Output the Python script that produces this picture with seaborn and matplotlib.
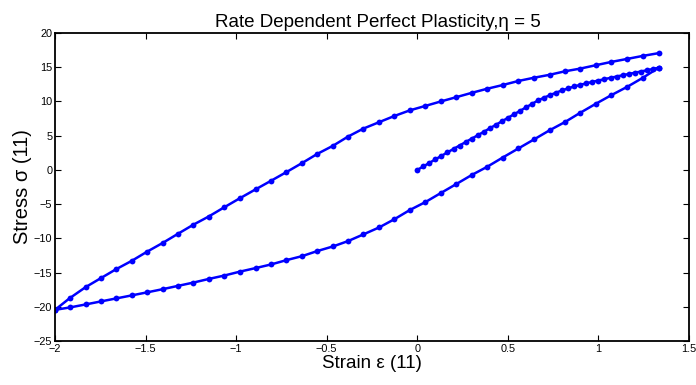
import numpy as np
import pandas as pd
import matplotlib
matplotlib.use("Agg")
import matplotlib.pyplot as plt
import seaborn as sns

# --- data ---
# initial loading 0 -> 1.333
load_strain = [0.0, 0.0333, 0.0667, 0.1, 0.1333, 0.1667, 0.2, 0.2333, 0.2667, 0.3,
               0.3333, 0.3667, 0.4, 0.4333, 0.4667, 0.5, 0.5333, 0.5667, 0.6, 0.6333,
               0.6667, 0.7, 0.7333, 0.7667, 0.8, 0.8333, 0.8667, 0.9, 0.9333, 0.9667,
               1.0, 1.0333, 1.0667, 1.1, 1.1333, 1.1667, 1.2, 1.2333, 1.2667, 1.3, 1.3333]
load_stress = [0.0, 0.5, 1.02, 1.54, 2.05, 2.56, 3.06, 3.56, 4.06, 4.56,
               5.05, 5.56, 6.07, 6.58, 7.09, 7.6, 8.11, 8.62, 9.13, 9.64,
               10.15, 10.55, 10.93, 11.29, 11.62, 11.92, 12.19, 12.43, 12.65, 12.86,
               13.06, 13.26, 13.45, 13.64, 13.83, 14.01, 14.19, 14.37, 14.55, 14.74, 14.94]

# unloading 1.333 -> -2 (lower branch)
unload_strain = [1.333, 1.246, 1.160, 1.072, 0.985, 0.898, 0.816, 0.730, 0.645, 0.558,
                 0.472, 0.385, 0.301, 0.216, 0.130, 0.045, -0.041, -0.126, -0.210, -0.298,
                 -0.382, -0.465, -0.551, -0.636, -0.723, -0.808, -0.893, -0.980, -1.066, -1.152,
                 -1.237, -1.322, -1.406, -1.493, -1.577, -1.662, -1.747, -1.831, -1.918, -2.0]
unload_stress = [14.94, 13.47, 12.15, 10.93, 9.65, 8.32, 7.0, 5.78, 4.46, 3.13,
                 1.81, 0.44, -0.74, -2.06, -3.38, -4.7, -5.86, -7.2, -8.4, -9.43,
                 -10.4, -11.18, -11.85, -12.6, -13.19, -13.82, -14.35, -14.87, -15.44, -15.94,
                 -16.47, -16.95, -17.43, -17.9, -18.34, -18.78, -19.22, -19.66, -20.1, -20.45]

# reloading -2 -> 1.333 (upper branch)
reload_strain = [-2.0, -1.918, -1.831, -1.747, -1.662, -1.577, -1.493, -1.406, -1.322, -1.237,
                 -1.152, -1.066, -0.980, -0.893, -0.808, -0.723, -0.636, -0.551, -0.465, -0.382,
                 -0.298, -0.210, -0.126, -0.041, 0.045, 0.130, 0.216, 0.301, 0.385, 0.472,
                 0.558, 0.645, 0.730, 0.816, 0.898, 0.985, 1.072, 1.160, 1.246, 1.333]
reload_stress = [-20.45, -18.73, -17.13, -15.82, -14.5, -13.3, -11.97, -10.68, -9.35, -8.02,
                 -6.82, -5.47, -4.15, -2.85, -1.6, -0.33, 1.0, 2.35, 3.53, 4.87,
                 6.03, 6.98, 7.88, 8.7, 9.35, 10.0, 10.63, 11.26, 11.85, 12.4,
                 12.99, 13.47, 13.89, 14.41, 14.79, 15.29, 15.78, 16.22, 16.66, 17.06]

x_ticks = [-2, -1.5, -1, -0.5, 0, 0.5, 1, 1.5]
x_ticklabels = ["\u22122", "\u22121.5", "\u22121", "\u22120.5", "0", "0.5", "1", "1.5"]
y_ticks = [-25, -20, -15, -10, -5, 0, 5, 10, 15, 20]
y_ticklabels = ["\u221225", "\u221220", "\u221215", "\u221210", "\u22125", "0", "5", "10", "15", "20"]

title = "Rate Dependent Perfect Plasticity,\u03b7 = 5"
xlabel = "Strain \u03b5 (11)"
ylabel = "Stress \u03c3 (11)"

strain = load_strain + unload_strain + reload_strain
stress = load_stress + unload_stress + reload_stress
df = pd.DataFrame({"strain": strain, "stress": stress})

sns.set_theme(style="white")
plt.rcParams["font.family"] = ["Liberation Sans", "DejaVu Sans"]

fig = plt.figure(figsize=(6.96, 3.85), dpi=100)
ax = fig.add_axes([55 / 696, 1 - 341 / 385, (689 - 55) / 696, (341 - 33) / 385])

sns.lineplot(data=df, x="strain", y="stress", sort=False, estimator=None,
             color="#0000ff", linewidth=1.8, marker="o", markersize=4.2,
             markeredgewidth=0, ax=ax)

ax.set_xlim(-2, 1.5)
ax.set_ylim(-25, 20)
ax.set_xticks(x_ticks)
ax.set_xticklabels(x_ticklabels)
ax.set_yticks(y_ticks)
ax.set_yticklabels(y_ticklabels)
ax.tick_params(direction="in", length=4, width=0.8, labelsize=7.8, color="black",
               top=True, right=True, bottom=True, left=True, pad=2,
               labelcolor="black")
for s in ax.spines.values():
    s.set_visible(True)
    s.set_color("black")
    s.set_linewidth(1.3)

ax.set_xlabel(xlabel, fontsize=13.5, color="black", labelpad=1)
ax.set_ylabel(ylabel, fontsize=14.5, color="black", labelpad=1)
ax.set_title(title, fontsize=13.5, color="black", pad=4, x=0.51)
ax.grid(False)

fig.savefig("out.png", dpi=100, facecolor="white")
